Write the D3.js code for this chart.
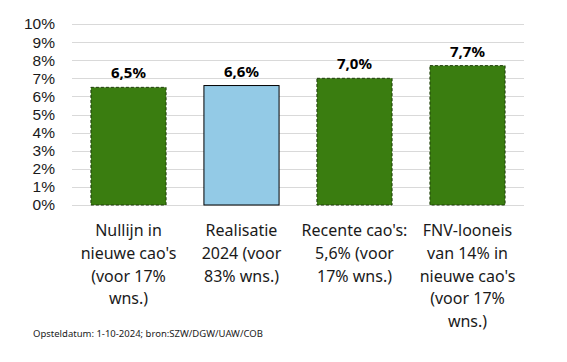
<!DOCTYPE html>
<html>
<head>
<meta charset="utf-8">
<script src="https://cdn.jsdelivr.net/npm/d3@7"></script>
<style>
  body { margin: 0; background: #fff; }
  svg { display: block; font-family: "Noto Sans", "Liberation Sans", sans-serif; }
</style>
</head>
<body>
<div id="chart"></div>
<script>
// chart values
var categories = [
  ["Nullijn in", "nieuwe cao's", "(voor 17%", "wns.)"],
  ["Realisatie", "2024 (voor", "83% wns.)"],
  ["Recente cao's:", "5,6% (voor", "17% wns.)"],
  ["FNV-looneis", "van 14% in", "nieuwe cao's", "(voor 17%", "wns.)"]
];
var values = [6.5, 6.6, 7.0, 7.7];
var valueLabels = ["6,5%", "6,6%", "7,0%", "7,7%"];
var barColors = ["#3a7d10", "#93cae6", "#3a7d10", "#3a7d10"];
var yTicks = [0, 1, 2, 3, 4, 5, 6, 7, 8, 9, 10];
var footnote = "Opsteldatum: 1-10-2024; bron:SZW/DGW/UAW/COB";

var width = 567, height = 362;
var margin = {left: 72, right: 43, top: 24, bottom: 157};

var svg = d3.select("#chart").append("svg")
  .attr("width", width)
  .attr("height", height);

var x = d3.scaleBand()
  .domain(d3.range(categories.length))
  .range([margin.left, width - margin.right])
  .paddingInner(0.335)
  .paddingOuter(0.1675);

var y = d3.scaleLinear()
  .domain([0, 10])
  .range([height - margin.bottom, margin.top]);

// gridlines
svg.append("g")
  .selectAll("line")
  .data(yTicks)
  .enter().append("line")
    .attr("x1", margin.left)
    .attr("x2", width - margin.right)
    .attr("y1", function(d) { return Math.round(y(d)) + 0.5; })
    .attr("y2", function(d) { return Math.round(y(d)) + 0.5; })
    .style("stroke", "#d9d9d9")
    .style("stroke-width", 1);

// y axis labels
var yAxis = d3.axisLeft(y)
  .tickValues(yTicks)
  .tickFormat(function(d) { return d + "%"; })
  .tickSize(0)
  .tickPadding(17);

svg.append("g")
  .attr("transform", "translate(" + margin.left + ",0)")
  .call(yAxis)
  .call(function(g) { g.select(".domain").remove(); })
  .selectAll("text")
    .style("font-family", "\"Liberation Sans\", sans-serif")
    .style("font-size", "15.5px")
    .style("fill", "#1a1a1a");

// bars
svg.append("g")
  .selectAll("rect")
  .data(values)
  .enter().append("rect")
    .attr("x", function(d, i) { return x(i); })
    .attr("y", function(d) { return y(d); })
    .attr("width", x.bandwidth())
    .attr("height", function(d) { return y(0) - y(d); })
    .style("fill", function(d, i) { return barColors[i]; })
    .style("stroke", function(d, i) { return i == 1 ? "#000" : "#1e3d0a"; })
    .style("stroke-width", 1)
    .style("stroke-dasharray", function(d, i) { return i == 1 ? null : "3,2"; });

// value labels
svg.append("g")
  .selectAll("text")
  .data(values)
  .enter().append("text")
    .attr("x", function(d, i) { return x(i) + x.bandwidth() / 2; })
    .attr("y", function(d) { return y(d) - 9; })
    .attr("text-anchor", "middle")
    .style("font-size", "15px")
    .style("font-weight", "bold")
    .style("fill", "#000")
    .text(function(d, i) { return valueLabels[i]; });

// category labels
var cat = svg.append("g")
  .selectAll("text")
  .data(categories)
  .enter().append("text")
    .attr("text-anchor", "middle")
    .style("font-size", "16px")
    .style("fill", "#1a1a1a");

cat.selectAll("tspan")
  .data(function(d, i) { return d.map(function(line) { return {line: line, i: i}; }); })
  .enter().append("tspan")
    .attr("x", function(d) { return x(d.i) + x.bandwidth() / 2; })
    .attr("y", function(d, j) { return y(0) + 31 + j * 22.8; })
    .text(function(d) { return d.line; });

// footnote
svg.append("text")
  .attr("x", 33)
  .attr("y", 337)
  .style("font-size", "9.5px")
  .style("fill", "#1a1a1a")
  .text(footnote);
</script>
</body>
</html>
